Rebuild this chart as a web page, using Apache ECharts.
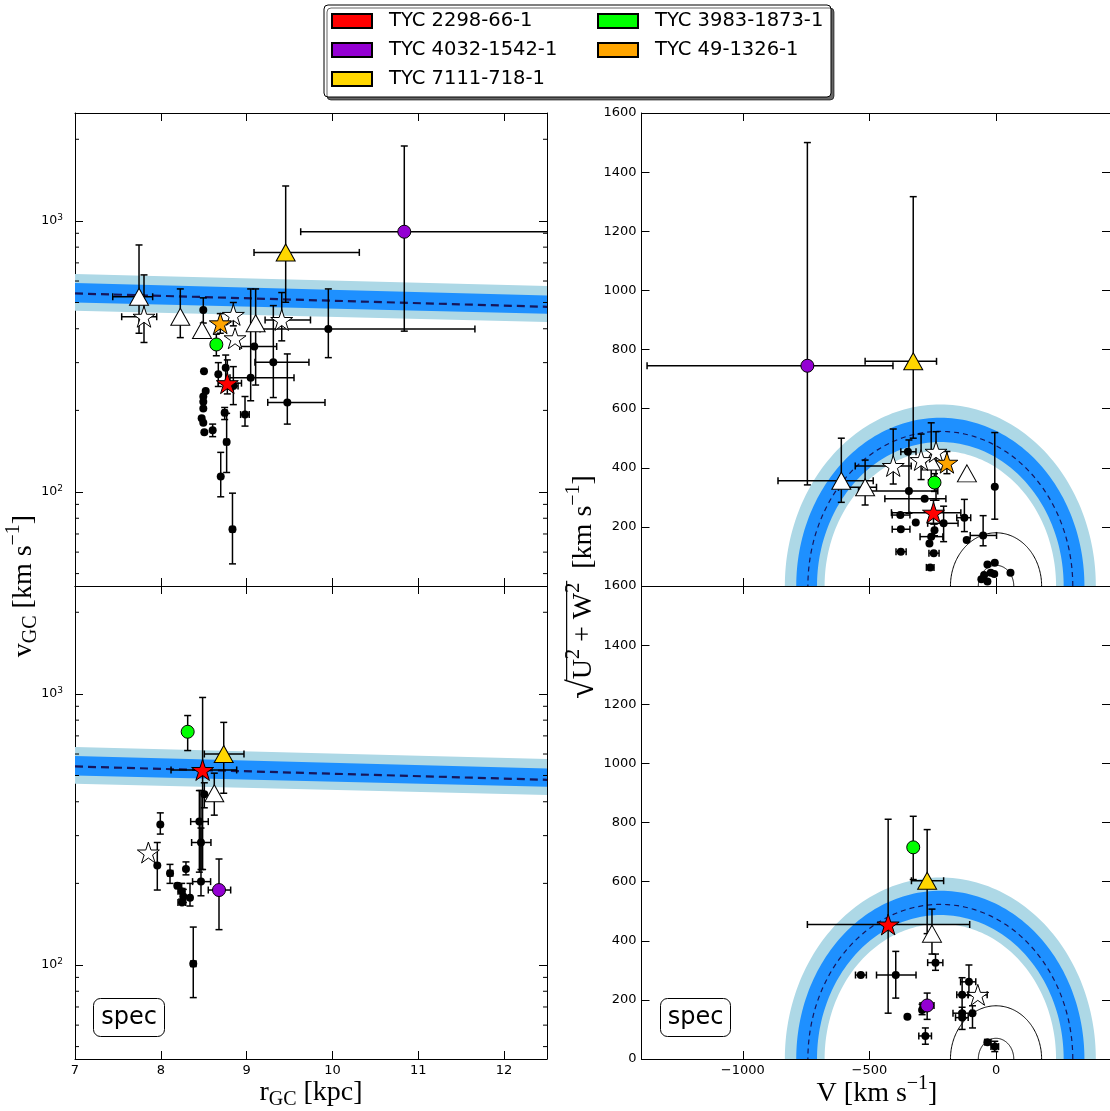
<!DOCTYPE html>
<html><head><meta charset="utf-8">
<script src="https://cdn.jsdelivr.net/npm/echarts@6/dist/echarts.min.js"></script>
<style>html,body{margin:0;padding:0;background:#fff}#c{width:1110px;height:1111px}</style>
</head><body><div id="c"></div>
<script>
// ---------------- DATA ----------------
const starNames = ['TYC 2298-66-1','TYC 4032-1542-1','TYC 7111-718-1','TYC 3983-1873-1','TYC 49-1326-1'];
const starColors = ['#ff0000','#9400d3','#ffd700','#00ff00','#ffa500'];

// left panels: escape-velocity band vs r_GC
const escR = [7, 12.5];
const escMid = [540, 482];
const escDarkLo = [500, 454];
const escDarkHi = [590, 531];
const escLightLo = [466, 424];
const escLightHi = [637, 575];
const logMinorVals = [50,60,70,80,90,200,300,400,500,600,700,800,900,2000];
const rTicks = [7,8,9,10,11,12];
const vTicksRight = [-1000,-500,0];

// right panels: Toomre rings
const ringCenterV = -220;
const ringLight = [457, 614];
const ringDark = [487, 569];
const ringMid = 523;
const diskCircles = [70, 180];

// rows: [x, y, xlo, xhi, ylo, yhi]
// top-left (r_GC, v_GC)
const tlRed = [[8.775, 252, 8.67, 8.94, 230, 307]];
const tlPurple = [[10.837, 912, 9.63, 13.5, 392, 1889]];
const tlGold = [[9.455, 765, 9.086, 10.313, 501, 1345]];
const tlGreen = [[8.647, 350, null, null, 318, 382]];
const tlOrange = [[8.693, 419, null, null, 385, 455]];
const tlTri = [[7.746, 525, 7.44, 7.905, 385, 815],[8.227, 443, null, null, 371, 561],[8.48, 396, null, null, null, null],[9.105, 419, null, null, 248, 561]];
const tlStar = [[7.804, 443, 7.544, 7.952, 356, 632],[8.845, 450, null, null, 410, 500],[8.865, 369, null, null, null, null],[9.409, 431, 9.215, 9.744, 361, 544]];
const tlDots = [
 [8.495, 469, null, null, 420, 520],[9.952, 399, 9.156, 11.66, 313, 561],[9.089, 344, 8.92, 9.35, null, null],
 [9.311, 301, 9.097, 9.726, 223, 487],[9.047, 264, 8.806, 9.552, 217, 561],[9.474, 214, 9.246, 9.913, 178, 323],
 [8.503, 279, null, null, null, null],[8.67, 272, null, null, 245, 300],[8.756, 287, null, null, 250, 320],
 [8.523, 236, null, null, null, null],[8.495, 225, null, null, null, null],[8.495, 215, null, null, null, null],
 [8.495, 203, null, null, null, null],[8.476, 187, null, null, null, null],[8.495, 180, null, null, null, null],
 [8.507, 166, null, null, null, null],[8.604, 169, null, null, 160, 178],[8.744, 196, 8.72, 8.77, 185, 205],
 [8.981, 193, 8.93, 9.03, 175, 225],[8.767, 153, 8.74, 8.79, 118, 195],[8.698, 114, null, null, 96, 140],
 [8.835, 72.8, 8.81, 8.86, 54.3, 99],[8.845, 246, 8.8, 8.9, 210, 290]
];
// bottom-left (spec)
const blRed = [[8.487, 524, 8.119, 8.884, 225, 970]];
const blPurple = [[8.678, 189, 8.553, 8.814, 135, 246]];
const blGold = [[8.733, 600, 8.507, 8.969, 430, 785]];
const blGreen = [[8.313, 725, null, null, 618, 832]];
const blOrange = [];
const blTri = [[8.623, 430, null, null, 357, 510]];
const blStar = [[7.855, 260, null, null, null, null]];
const blDots = [
 [8.507, 426, null, null, 380, 470],[8.449, 338, 8.348, 8.553, 220, 440],[8.468, 283, 8.359, 8.584, 225, 440],
 [7.994, 330, null, null, 304, 364],[7.959, 233, null, null, 189, 283],[8.107, 218, 8.08, 8.14, 200, 235],
 [8.293, 226, null, null, 215, 240],[8.192, 196, 8.17, 8.22, null, null],[8.243, 187, 8.2, 8.28, 175, 200],
 [8.262, 179, null, null, 170, 190],[8.247, 170, 8.2, 8.29, null, null],[8.34, 177, null, null, 165, 200],
 [8.468, 203, 8.37, 8.58, 180, 320],[8.378, 101, 8.35, 8.41, 75.8, 138]
];
// top-right (V, sqrt(U^2+W^2))
const trRed = [[-247, 248, -413, -139, 210, 290]];
const trPurple = [[-745, 745, -1378, -407, 342, 1500]];
const trGold = [[-327, 760, -517, -235, 500, 1317]];
const trGreen = [[-243, 350, null, null, 320, 380]];
const trOrange = [[-194, 417, null, null, 380, 455]];
const trTri = [[-611, 356, -861, -485, 283, 500],[-517, 334, -622, -472, 274, 426],[-256, 421, null, null, 359, 552],[-115, 381, null, null, null, null]];
const trStar = [[-406, 406, -556, -335, 345, 531],[-296, 426, null, null, 360, 514],[-237, 454, null, null, 290, 522]];
const trDots = [
 [-348, 454, -376, -316, null, null],[-5, 336, null, null, 226, 519],[-344, 321, -543, -230, 246, 494],
 [-282, 295, -439, -198, null, null],[-378, 240, -410, -340, null, null],[-376, 192, -410, -340, null, null],
 [-317, 215, null, null, null, null],[-125, 231, -155, -100, 184, 293],[-51, 171, -102, 2, 136, 238],
 [-116, 156, null, null, null, null],[-207, 212, -270, -150, 150, 270],[-243, 189, null, null, 170, 210],
 [-256, 167, -300, -210, null, null],[-263, 144, null, null, null, null],[-246, 111, -265, -225, null, null],
 [-260, 63, -275, -245, null, null],[-376, 116, -395, -355, null, null],
 [-34, 73, null, null, null, null],[-5, 79, null, null, null, null],[-21, 45, null, null, null, null],
 [-47, 37, null, null, null, null],[-7, 41, null, null, null, null],[-34, 15, null, null, null, null],
 [57, 45, null, null, null, null],[-58, 23, null, null, null, null]
];
// bottom-right (spec)
const brRed = [[-426, 455, -745, -104, 155, 811]];
const brPurple = [[-272, 181, -300, -245, 134, 223]];
const brGold = [[-272, 603, -334, -207, 424, 776]];
const brGreen = [[-327, 716, null, null, 607, 821]];
const brOrange = [];
const brTri = [[-253, 424, null, null, 355, 507]];
const brStar = [[-72, 217, -110, -35, null, null]];
const brDots = [
 [-239, 326, -270, -210, 300, 355],[-396, 284, -472, -316, 206, 364],[-534, 284, -555, -512, null, null],
 [-350, 143, null, null, null, null],[-292, 166, null, null, 150, 185],[-279, 78, -305, -255, 50, 105],
 [-107, 261, -140, -80, 215, 318],[-134, 217, -155, -110, 160, 275],[-134, 155, -170, -100, 100, 175],
 [-93, 155, null, null, 105, 180],[-134, 140, -160, -110, null, null],[-34, 57, -45, -20, null, null],
 [-5, 42, -20, 10, 25, 60]
];

// ---------------- STYLE / HELPERS ----------------
const SANS = '"DejaVu Sans", sans-serif';
const SERIF = '"Liberation Serif", "DejaVu Serif", serif';
const starPts = [];
for (let k = 0; k < 10; k++) {
  const r = k % 2 ? 0.382 : 1, a = (-90 + k * 36) * Math.PI / 180;
  starPts.push((r * Math.cos(a)).toFixed(4) + ',' + (r * Math.sin(a)).toFixed(4));
}
const STAR = 'path://M' + starPts.join(' L') + ' Z';

const grids = [
  {left: 75, top: 113, width: 472, height: 473},
  {left: 75, top: 586, width: 472, height: 473},
  {left: 641.5, top: 113, width: 472, height: 473},
  {left: 641.5, top: 586, width: 472, height: 473}
];
const axLine = {show: true, onZero: false, lineStyle: {color: '#000', width: 1}};
const tick = {show: true, inside: true, length: 8, lineStyle: {color: '#000', width: 1}};
const lab = {color: '#000', fontSize: 13, fontFamily: SANS};

const xAxes = [], yAxes = [];
for (let g = 0; g < 4; g++) {
  const left = g < 2, bottomRow = g % 2 === 1;
  const base = left ? {type: 'value', min: 7, max: 12.5, interval: 1}
                    : {type: 'value', min: -1400, max: 450};
  const tk = left ? tick : Object.assign({}, tick, {customValues: vTicksRight});
  const lb = left ? Object.assign({}, lab, {show: bottomRow, margin: 5, showMaxLabel: false, formatter: v => String(v)})
                  : Object.assign({}, lab, {show: bottomRow, margin: 5, customValues: vTicksRight,
                      formatter: v => v < 0 ? '\u2212' + Math.abs(v) : String(v)});
  xAxes.push(Object.assign({gridIndex: g, position: 'bottom', axisLine: axLine, axisTick: tk, axisLabel: lb, splitLine: {show: false}}, base));
}
for (let g = 0; g < 4; g++) {
  const left = g < 2;
  const base = left ? {type: 'value', min: 7, max: 12.5, interval: 1} : {type: 'value', min: -1400, max: 450};
  const tk = left ? tick : Object.assign({}, tick, {customValues: vTicksRight});
  xAxes.push(Object.assign({gridIndex: g, position: 'top', axisLine: axLine, axisTick: tk, axisLabel: {show: false}, splitLine: {show: false}}, base));
}
const logLabel = {
  color: '#000', fontFamily: SANS, margin: 12, showMinLabel: false, showMaxLabel: false,
  formatter: v => { const e = Math.round(Math.log10(v)); return Math.abs(Math.log10(v) - e) < 1e-6 ? '{b|10}{s|' + e + '}' : ''; },
  rich: {b: {fontSize: 12.5, fontFamily: SANS, color: '#000', lineHeight: 16}, s: {fontSize: 9, fontFamily: SANS, color: '#000', verticalAlign: 'top', lineHeight: 10}}
};
for (let g = 0; g < 4; g++) {
  const left = g < 2, topRow = g % 2 === 0;
  if (left) yAxes.push({type: 'log', logBase: 10, min: 45, max: 2500, gridIndex: g, position: 'left', axisLine: axLine, axisTick: tick, axisLabel: logLabel, splitLine: {show: false}});
  else yAxes.push({type: 'value', min: 0, max: 1600, interval: 200, gridIndex: g, position: 'left', axisLine: axLine, axisTick: tick,
     axisLabel: Object.assign({}, lab, {margin: 5, showMinLabel: !topRow, formatter: v => String(v)}), splitLine: {show: false}});
}
for (let g = 0; g < 4; g++) {
  const left = g < 2;
  if (left) yAxes.push({type: 'log', logBase: 10, min: 45, max: 2500, gridIndex: g, position: 'right', axisLine: axLine, axisTick: tick, axisLabel: {show: false}, splitLine: {show: false}});
  else yAxes.push({type: 'value', min: 0, max: 1600, interval: 200, gridIndex: g, position: 'right', axisLine: axLine, axisTick: tick, axisLabel: {show: false}, splitLine: {show: false}});
}

function isNum(v) { return v !== null && v !== undefined && isFinite(v); }
function errSeries(arr, g) {
  return {type: 'custom', xAxisIndex: g, yAxisIndex: g, clip: true, z: 3, silent: true,
    data: arr.map(d => [d[0], d[1]]),
    renderItem: (params, api) => {
      const d = arr[params.dataIndex], ch = [], st = {stroke: '#000', lineWidth: 1.5}, c = 3.5;
      if (isNum(d[2])) {
        const a = api.coord([d[2], d[1]]), b = api.coord([d[3], d[1]]);
        ch.push({type: 'line', shape: {x1: a[0], y1: a[1], x2: b[0], y2: b[1]}, style: st});
        ch.push({type: 'line', shape: {x1: a[0], y1: a[1] - c, x2: a[0], y2: a[1] + c}, style: st});
        ch.push({type: 'line', shape: {x1: b[0], y1: b[1] - c, x2: b[0], y2: b[1] + c}, style: st});
      }
      if (isNum(d[4])) {
        const a = api.coord([d[0], d[4]]), b = api.coord([d[0], d[5]]);
        ch.push({type: 'line', shape: {x1: a[0], y1: a[1], x2: b[0], y2: b[1]}, style: st});
        ch.push({type: 'line', shape: {x1: a[0] - c, y1: a[1], x2: a[0] + c, y2: a[1]}, style: st});
        ch.push({type: 'line', shape: {x1: b[0] - c, y1: b[1], x2: b[0] + c, y2: b[1]}, style: st});
      }
      return {type: 'group', children: ch};
    }};
}
function scat(name, arr, g, symbol, size, color, z, border) {
  return {type: 'scatter', name: name, xAxisIndex: g, yAxisIndex: g, z: z, silent: true,
    symbol: symbol, symbolSize: size, symbolKeepAspect: true,
    itemStyle: {color: color, borderColor: '#000', borderWidth: border, opacity: 1},
    data: arr.map(d => [d[0], d[1]])};
}
function escBand(g) {
  return {type: 'custom', xAxisIndex: g, yAxisIndex: g, z: 1, silent: true, clip: true,
    data: [[escR[0], escMid[0]]],
    renderItem: (params, api) => {
      const poly = (lo, hi) => {
        const p = [];
        for (let i = 0; i < escR.length; i++) p.push(api.coord([escR[i], hi[i]]));
        for (let i = escR.length - 1; i >= 0; i--) p.push(api.coord([escR[i], lo[i]]));
        return p;
      };
      return {type: 'group', children: [
        {type: 'polygon', shape: {points: poly(escLightLo, escLightHi)}, style: {fill: '#add8e6'}},
        {type: 'polygon', shape: {points: poly(escDarkLo, escDarkHi)}, style: {fill: '#1e90ff'}},
        {type: 'polyline', shape: {points: escR.map((r, i) => api.coord([r, escMid[i]]))}, style: {stroke: '#16165c', lineWidth: 2.2, lineDash: [8, 5], fill: null}}
      ]};
    }};
}
function minorTicks(g) {
  return {type: 'custom', xAxisIndex: g, yAxisIndex: g, z: 6, silent: true,
    data: logMinorVals.map(v => [7, v]),
    renderItem: (params, api) => {
      const v = logMinorVals[params.dataIndex];
      const a = api.coord([7, v]), b = api.coord([12.5, v]);
      const st = {stroke: '#000', lineWidth: 1};
      return {type: 'group', children: [
        {type: 'line', shape: {x1: a[0], y1: a[1], x2: a[0] + 4, y2: a[1]}, style: st},
        {type: 'line', shape: {x1: b[0] - 4, y1: b[1], x2: b[0], y2: b[1]}, style: st}
      ]};
    }};
}
function arcPts(api, cx, R, rev) {
  const p = [];
  for (let i = 0; i <= 120; i++) {
    const t = Math.PI * (rev ? 120 - i : i) / 120;
    p.push(api.coord([cx + R * Math.cos(t), R * Math.sin(t)]));
  }
  return p;
}
function rings(g) {
  return {type: 'custom', xAxisIndex: g, yAxisIndex: g, z: 1, silent: true, clip: true,
    data: [[ringCenterV, 0]],
    renderItem: (params, api) => {
      const band = (r) => arcPts(api, ringCenterV, r[1], false).concat(arcPts(api, ringCenterV, r[0], true));
      const ch = [
        {type: 'polygon', shape: {points: band(ringLight)}, style: {fill: '#add8e6'}},
        {type: 'polygon', shape: {points: band(ringDark)}, style: {fill: '#1e90ff'}},
        {type: 'polyline', shape: {points: arcPts(api, ringCenterV, ringMid, false)}, style: {stroke: '#16165c', lineWidth: 1.2, lineDash: [5, 4], fill: null}}
      ];
      diskCircles.forEach(R => ch.push({type: 'polyline', shape: {points: arcPts(api, 0, R, false)}, style: {stroke: '#000', lineWidth: 1, fill: null}}));
      return {type: 'group', children: ch};
    }};
}

const panels = [
  {dots: tlDots, tri: tlTri, star: tlStar, col: [tlRed, tlPurple, tlGold, tlGreen, tlOrange]},
  {dots: blDots, tri: blTri, star: blStar, col: [blRed, blPurple, blGold, blGreen, blOrange]},
  {dots: trDots, tri: trTri, star: trStar, col: [trRed, trPurple, trGold, trGreen, trOrange]},
  {dots: brDots, tri: brTri, star: brStar, col: [brRed, brPurple, brGold, brGreen, brOrange]}
];
const colSym = [STAR, 'circle', 'triangle', 'circle', STAR];
const colSize = [22, 13, [19, 17], 13, 22];

const series = [];
panels.forEach((p, g) => {
  series.push(g < 2 ? escBand(g) : rings(g));
  if (g < 2) series.push(minorTicks(g));
  series.push(errSeries(p.dots, g));
  series.push(scat('dots' + g, p.dots, g, 'circle', 8, '#000', 4, 0));
  series.push(errSeries(p.tri, g));
  series.push(errSeries(p.star, g));
  p.col.forEach(arr => series.push(errSeries(arr, g)));
  series.push(scat('tri' + g, p.tri, g, 'triangle', [19, 17], '#fff', 5, 1));
  series.push(scat('star' + g, p.star, g, STAR, 22, '#fff', 5, 1));
  p.col.forEach((arr, k) => series.push(scat(starNames[k], arr, g, colSym[k], colSize[k], starColors[k], 6, 1)));
});

// math-like text built from pieces
const measureCtx = document.createElement('canvas').getContext('2d');
function mathText(pieces, F, cx, cy, rot, vinc) {
  let x = 0; const els = [], pos = [];
  pieces.forEach(p => {
    const fs = p[1] === 'n' ? F : p[1] === 'rad' ? Math.round(F * 1.3) : Math.round(F * 0.7);
    const font = fs + 'px ' + SERIF;
    measureCtx.font = font;
    const w = measureCtx.measureText(p[0]).width;
    const dy = p[1] === 'sub' ? 0.24 * F : p[1] === 'sup' ? -0.36 * F : p[1] === 'rad' ? -0.02 * F : 0;
    els.push({type: 'text', x: x, y: dy, style: {text: p[0], font: font, fill: '#000', align: 'left', verticalAlign: 'middle', textAlign: 'left', textVerticalAlign: 'middle'}});
    pos.push([x, x + w]);
    x += w;
  });
  const half = x / 2;
  els.forEach(e => e.x -= half);
  if (vinc) {
    const x1 = pos[vinc[0]][0] - half - 1, x2 = pos[vinc[1]][1] - half + 2;
    els.push({type: 'line', shape: {x1: x1, y1: -0.62 * F, x2: x2, y2: -0.62 * F}, style: {stroke: '#000', lineWidth: 1.2}});
  }
  return {type: 'group', x: cx, y: cy, rotation: rot, children: els};
}

const graphic = [
  {type: 'rect', z: 0, shape: {x: 324, y: 5, width: 507, height: 92, r: 4},
   style: {fill: '#fff', stroke: '#000', lineWidth: 1, shadowColor: 'rgba(0,0,0,0.6)', shadowOffsetX: 3, shadowOffsetY: 3, shadowBlur: 0}},
  {type: 'rect', z: 50, shape: {x: 93.5, y: 998.5, width: 71, height: 38, r: 7}, style: {fill: '#fff', stroke: '#000', lineWidth: 1}},
  {type: 'text', z: 51, x: 129, y: 1017.5, style: {text: 'spec', font: '24px ' + SANS, fill: '#000', align: 'center', verticalAlign: 'middle', textAlign: 'center', textVerticalAlign: 'middle'}},
  {type: 'rect', z: 50, shape: {x: 660.5, y: 998.5, width: 70, height: 38, r: 7}, style: {fill: '#fff', stroke: '#000', lineWidth: 1}},
  {type: 'text', z: 51, x: 695.5, y: 1017.5, style: {text: 'spec', font: '24px ' + SANS, fill: '#000', align: 'center', verticalAlign: 'middle', textAlign: 'center', textVerticalAlign: 'middle'}},
  mathText([['r', 'n'], ['GC', 'sub'], [' [kpc]', 'n']], 28, 311, 1093, 0),
  mathText([['V [km s', 'n'], ['\u22121', 'sup'], [']', 'n']], 28, 877, 1094, 0),
  mathText([['v', 'n'], ['GC', 'sub'], [' [km s', 'n'], ['\u22121', 'sup'], [']', 'n']], 28, 24, 586, Math.PI / 2),
  mathText([['\u221a', 'rad'], ['U', 'n'], ['2', 'sup'], [' + ', 'n'], ['W', 'n'], ['2', 'sup'], ['  [km s', 'n'], ['\u22121', 'sup'], [']', 'n']], 28, 584, 587, Math.PI / 2, [1, 5])
];

const legendBase = {orient: 'vertical', itemWidth: 40, itemHeight: 14, itemGap: 9, icon: 'rect', padding: 0, selectedMode: false, z: 10,
  textStyle: {fontSize: 19.5, fontFamily: SANS, color: '#000', lineHeight: 20, padding: [0, 0, 0, 12]}};
const option = {
  animation: false,
  backgroundColor: '#fff',
  grid: grids,
  xAxis: xAxes,
  yAxis: yAxes,
  legend: [
    Object.assign({left: 331, top: 11, data: [starNames[0], starNames[1], starNames[2]]}, legendBase),
    Object.assign({left: 597, top: 11, data: [starNames[3], starNames[4]]}, legendBase)
  ],
  graphic: graphic,
  series: series
};
const chart = echarts.init(document.getElementById('c'), null, {renderer: 'canvas'});
chart.setOption(option);
</script></body></html>
